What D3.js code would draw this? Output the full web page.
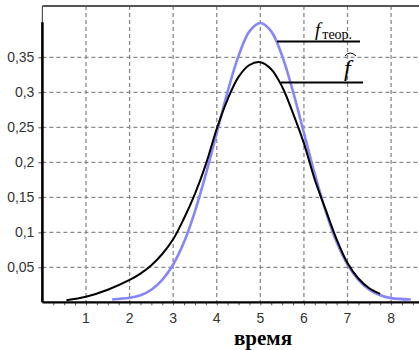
<!DOCTYPE html>
<html>
<head>
<meta charset="utf-8">
<script src="https://cdn.jsdelivr.net/npm/d3@7"></script>
<style>
  body { margin: 0; background: #fff; }
  svg { display: block; }
  .tick-label { font-family: "Liberation Sans", Arial, sans-serif; font-size: 14px; fill: #333; }
</style>
</head>
<body>
<div id="chart"></div>
<script>
// theoretical density (blue)
var theorX = [1.6, 2.0, 2.25, 2.5, 2.75, 3.0, 3.25, 3.5, 3.75, 4.0, 4.25, 4.5, 4.75, 5.0,
  5.25, 5.5, 5.75, 6.0, 6.25, 6.5, 6.75, 7.0, 7.25, 7.5, 7.75, 8.0, 8.45];
var theorY = [0.004, 0.0065, 0.01, 0.018, 0.032, 0.054, 0.086, 0.13, 0.183, 0.242, 0.301, 0.352, 0.387, 0.399,
  0.387, 0.352, 0.301, 0.242, 0.183, 0.13, 0.086, 0.054, 0.032, 0.018, 0.01, 0.006, 0.004];

// estimated density (black)
var estX = [0.55, 1.0, 1.5, 2.0, 2.25, 2.5, 2.75, 3.0, 3.25, 3.5, 3.75, 4.0, 4.25, 4.5, 4.75, 5.0,
  5.25, 5.5, 5.75, 6.0, 6.25, 6.5, 6.75, 7.0, 7.25, 7.5, 7.75];
var estY = [0.003, 0.008, 0.018, 0.032, 0.041, 0.053, 0.069, 0.09, 0.12, 0.155, 0.197, 0.248, 0.29, 0.322, 0.339, 0.343,
  0.333, 0.308, 0.27, 0.227, 0.175, 0.132, 0.09, 0.056, 0.034, 0.02, 0.012];

var xTicks = [1, 2, 3, 4, 5, 6, 7, 8];
var yTicks = [0.05, 0.1, 0.15, 0.2, 0.25, 0.3, 0.35];
var xLabel = "время";

var svgWidth = 419;
var svgHeight = 350;

var svg = d3
  .select("#chart")
  .append("svg")
  .attr("width", svgWidth)
  .attr("height", svgHeight);

var xScale = d3.scaleLinear().domain([0, 8.64]).range([42.4, 419]);
var yScale = d3.scaleLinear().domain([0, 0.4]).range([302.3, 22.3]);
var topY = 6;

var fmt = (d) => String(+d.toFixed(2)).replace(".", ",");

// grid
svg.append("g")
  .selectAll("line")
  .data(yTicks)
  .enter()
  .append("line")
  .attr("x1", xScale(0))
  .attr("x2", svgWidth)
  .attr("y1", (d) => yScale(d))
  .attr("y2", (d) => yScale(d))
  .attr("stroke", "#8a8a8a")
  .attr("stroke-width", 1.3)
  .attr("stroke-dasharray", "4,3");

svg.append("g")
  .selectAll("line")
  .data(xTicks)
  .enter()
  .append("line")
  .attr("x1", (d) => xScale(d))
  .attr("x2", (d) => xScale(d))
  .attr("y1", topY)
  .attr("y2", yScale(0))
  .attr("stroke", "#8a8a8a")
  .attr("stroke-width", 1.3)
  .attr("stroke-dasharray", "4,3");

// frame
svg.append("line")
  .attr("x1", xScale(0)).attr("x2", svgWidth)
  .attr("y1", topY).attr("y2", topY)
  .attr("stroke", "#555").attr("stroke-width", 2);
svg.append("line")
  .attr("x1", xScale(0)).attr("x2", xScale(0))
  .attr("y1", topY).attr("y2", yScale(0))
  .attr("stroke", "#555").attr("stroke-width", 1.2);

// axes
var xAxis = svg.append("g")
  .attr("transform", `translate(0, ${yScale(0)})`)
  .call(d3.axisBottom(xScale).tickValues(d3.range(0.25, 8.6, 0.25)).tickSize(3).tickFormat(""));
xAxis.select(".domain").remove();
xAxis.selectAll("line").attr("stroke", "#555");

var yAxis = svg.append("g")
  .attr("transform", `translate(${xScale(0)}, 0)`)
  .call(d3.axisLeft(yScale).tickValues(yTicks).tickSize(4).tickFormat(fmt).tickPadding(4));
yAxis.select(".domain").remove();
yAxis.selectAll("line").attr("stroke", "#555");
yAxis.selectAll("text").attr("class", "tick-label").attr("font-size", null).attr("font-family", null);

svg.append("g")
  .selectAll("text")
  .data(xTicks)
  .enter()
  .append("text")
  .attr("class", "tick-label")
  .attr("x", (d) => xScale(d))
  .attr("y", 323)
  .attr("text-anchor", "middle")
  .text((d) => d);

svg.append("line")
  .attr("x1", xScale(0)).attr("x2", svgWidth)
  .attr("y1", yScale(0)).attr("y2", yScale(0))
  .attr("stroke", "#000").attr("stroke-width", 2.2);
svg.append("line")
  .attr("x1", xScale(0)).attr("x2", xScale(0))
  .attr("y1", yScale(0.4)).attr("y2", yScale(0))
  .attr("stroke", "#000").attr("stroke-width", 2.6);

// curves
var line = d3.line()
  .x((d) => xScale(d[0]))
  .y((d) => yScale(d[1]))
  .curve(d3.curveCatmullRom);

svg.append("path")
  .datum(d3.zip(theorX, theorY))
  .attr("d", line)
  .attr("fill", "none")
  .attr("stroke", "#8585ff")
  .attr("stroke-width", 2.6);

svg.append("path")
  .datum(d3.zip(estX, estY))
  .attr("d", line)
  .attr("fill", "none")
  .attr("stroke", "#000")
  .attr("stroke-width", 2);

// curve labels
svg.append("line")
  .attr("x1", 277).attr("x2", 360).attr("y1", 41.5).attr("y2", 41.5)
  .attr("stroke", "#000").attr("stroke-width", 2);
svg.append("line")
  .attr("x1", 281).attr("x2", 363).attr("y1", 82.5).attr("y2", 82.5)
  .attr("stroke", "#000").attr("stroke-width", 2);

var lab1 = svg.append("text")
  .attr("x", 315)
  .attr("y", 36)
  .attr("font-family", "Liberation Serif, Times New Roman, serif");
lab1.append("tspan").attr("font-style", "italic").attr("font-size", 19).text("f");
lab1.append("tspan").attr("font-size", 14).attr("dy", 2.5).attr("dx", 2).text("теор.");

svg.append("text")
  .attr("x", 344)
  .attr("y", 76)
  .attr("font-family", "Liberation Serif, Times New Roman, serif")
  .attr("font-style", "italic")
  .attr("font-size", 24)
  .text("f");
svg.append("path")
  .attr("d", "M345,56 Q350,50 356,56")
  .attr("fill", "none")
  .attr("stroke", "#000")
  .attr("stroke-width", 1);

svg.append("text")
  .attr("x", 263)
  .attr("y", 345)
  .attr("text-anchor", "middle")
  .attr("font-family", "Liberation Serif, Times New Roman, serif")
  .attr("font-weight", "bold")
  .attr("font-size", 21)
  .text(xLabel);
</script>
</body>
</html>
